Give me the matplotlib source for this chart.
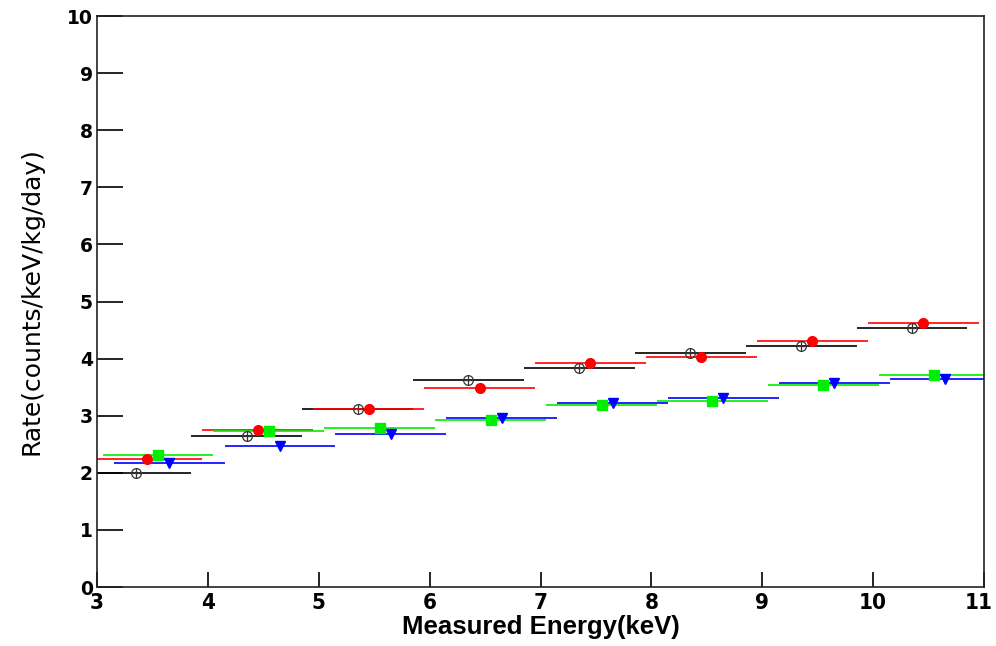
import matplotlib
matplotlib.use("Agg")
import matplotlib.pyplot as plt
import matplotlib.transforms as mtransforms
import numpy as np

# bin centres (keV), each series is shifted by 0.1 keV
energy = np.arange(3, 11)
offsets = [0.35, 0.45, 0.55, 0.65]

rate_black = [2.00, 2.64, 3.12, 3.62, 3.83, 4.10, 4.22, 4.54]
rate_red = [2.25, 2.75, 3.11, 3.49, 3.92, 4.03, 4.31, 4.62]
rate_green = [2.32, 2.73, 2.78, 2.92, 3.18, 3.25, 3.54, 3.71]
rate_blue = [2.18, 2.47, 2.68, 2.96, 3.22, 3.31, 3.57, 3.65]

fig = plt.figure(figsize=(9.96, 6.46), dpi=100)
ax = fig.add_axes([0.0974, 0.0913, 0.8906, 0.8839])

ekw = dict(xerr=0.5, linestyle="none", elinewidth=1.2, capsize=0)

x = energy + offsets[0]
ax.errorbar(x, rate_black, color="black", marker="o", ms=7, mfc="none",
            mec="#333333", mew=0.9, **ekw)
ax.plot(x, rate_black, linestyle="none", marker="+", ms=7, color="#333333", mew=0.9)

ax.errorbar(energy + offsets[1], rate_red, color="red", marker="o", ms=7, **ekw)
ax.errorbar(energy + offsets[2], rate_green, color="#00ee00", marker="s", ms=6.5, **ekw)
ax.errorbar(energy + offsets[3], rate_blue, color="blue", marker="v", ms=7, **ekw)

ax.set_xlim(3, 11)
ax.set_ylim(0, 10)
ax.set_xticks(range(3, 12))
ax.set_yticks(range(0, 11))
ax.tick_params(axis="y", direction="in", length=19, width=1.2, labelsize=13.5, pad=3)
ax.tick_params(axis="x", direction="in", length=11, width=1.2, labelsize=16, pad=4)
for lab in ax.get_yticklabels():
    lab.set_fontfamily(["DejaVu Sans"])
    lab.set_fontweight("bold")
for lab in ax.get_xticklabels():
    lab.set_fontfamily(["DejaVu Sans"])
    lab.set_fontstretch("condensed")
    lab.set_fontweight("bold")
# keep the last label inside the canvas
last = ax.get_xticklabels()[-1]
last.set_transform(last.get_transform() +
                   mtransforms.ScaledTranslation(-0.05, 0, fig.dpi_scale_trans))
for s in ax.spines.values():
    s.set_linewidth(1.2)
    s.set_color("#222222")

ax.set_xlabel("Measured Energy(keV)", fontsize=18.5, fontweight="bold",
              family=["Liberation Sans", "DejaVu Sans"], labelpad=2)
ax.set_ylabel("Rate(counts/keV/kg/day)", fontsize=18,
              family=["DejaVu Sans"], labelpad=17)

fig.savefig("out.png", dpi=100)
